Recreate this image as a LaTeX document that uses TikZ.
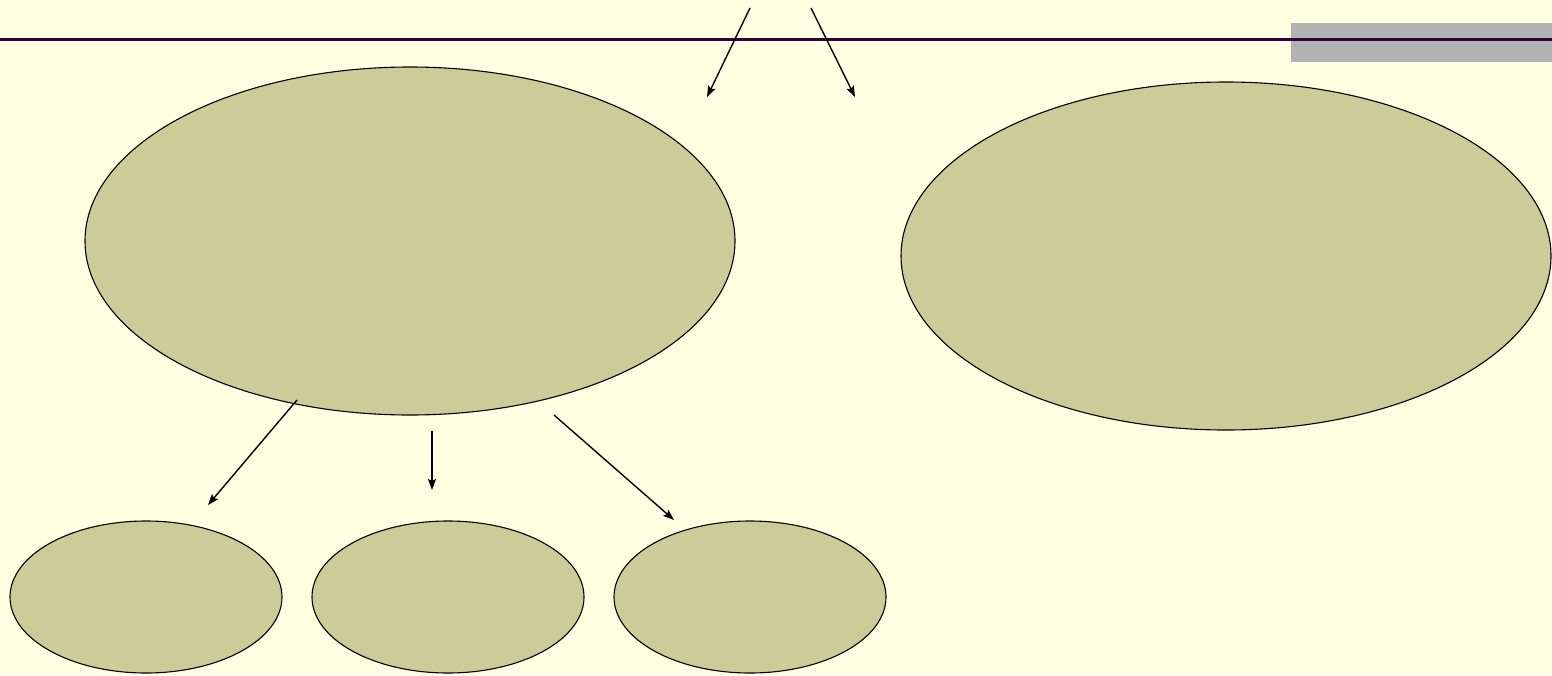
\documentclass[tikz,border=0pt]{standalone}
\usetikzlibrary{shapes.geometric,arrows.meta}
\definecolor{bg}{HTML}{FFFFE1}
\definecolor{olive}{HTML}{CCCC99}
\definecolor{rule}{HTML}{330033}
\definecolor{graybox}{HTML}{B2B2B2}
\begin{document}
\begin{tikzpicture}[x=1pt,y=-1pt,
  oval/.style={ellipse,draw=black,fill=olive,line width=1.1pt,inner sep=0pt},
  arr/.style={-{Stealth[length=11pt,width=8pt,inset=2pt]},line width=1.4pt}]
\fill[bg] (0,0) rectangle (1552,675);
\useasboundingbox (0,0) rectangle (1552,675);
\fill[graybox] (1291,23) rectangle (1552,62);
\draw[rule,line width=3.5pt] (0,39.5) -- (1552,39.5);
\node[oval,minimum width=650pt,minimum height=348pt] (bigL) at (410,241) {};
\node[oval,minimum width=650pt,minimum height=348pt] (bigR) at (1226,256) {};
\node[oval,minimum width=272pt,minimum height=152pt] (s1) at (146,597) {};
\node[oval,minimum width=272pt,minimum height=152pt] (s2) at (448,597) {};
\node[oval,minimum width=272pt,minimum height=152pt] (s3) at (750,597) {};
\coordinate (a1s) at (750,8);  \coordinate (a1e) at (707,97);
\coordinate (a2s) at (811,8);  \coordinate (a2e) at (855,97);
\coordinate (b1s) at (297,400); \coordinate (b1e) at (208,505);
\coordinate (b2s) at (432,431); \coordinate (b2e) at (432,490);
\coordinate (b3s) at (554,415); \coordinate (b3e) at (674,520);
\draw[arr] (a1s) -- (a1e);
\draw[arr] (a2s) -- (a2e);
\draw[arr] (b1s) -- (b1e);
\draw[arr] (b2s) -- (b2e);
\draw[arr] (b3s) -- (b3e);
\end{tikzpicture}
\end{document}
